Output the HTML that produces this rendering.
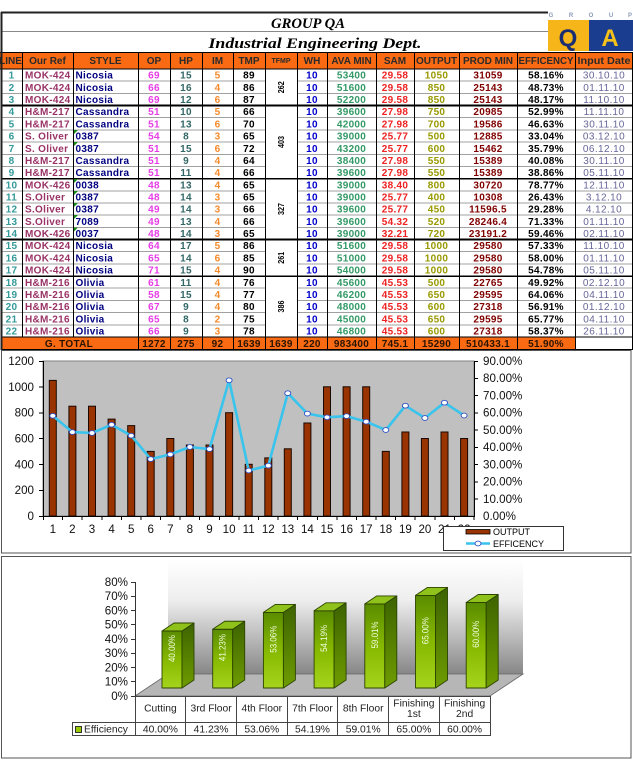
<!DOCTYPE html>
<html><head><meta charset="utf-8">
<style>
html,body{margin:0;padding:0;background:#fff;width:633px;height:768px;overflow:hidden}
svg{display:block}
text{font-family:"Liberation Sans",Arial,sans-serif}
.b text{font-weight:bold;font-size:10px;letter-spacing:0.3px}
</style></head><body>
<svg width="633" height="768" viewBox="0 0 633 768" xmlns="http://www.w3.org/2000/svg">
<defs>
<linearGradient id="wall" x1="0" y1="0" x2="0" y2="1"><stop offset="0" stop-color="#ffffff"/><stop offset="0.35" stop-color="#eeeeee"/><stop offset="1" stop-color="#878787"/></linearGradient>
<linearGradient id="gf" x1="0" y1="0" x2="0" y2="1"><stop offset="0" stop-color="#5a8c00"/><stop offset="0.5" stop-color="#86b800"/><stop offset="1" stop-color="#a6d41c"/></linearGradient>
<linearGradient id="gs" x1="0" y1="0" x2="0" y2="1"><stop offset="0" stop-color="#3d6300"/><stop offset="1" stop-color="#6e9c00"/></linearGradient>
</defs>

<!-- Title block -->
<line x1="1" y1="12.5" x2="548" y2="12.5" stroke="#222" stroke-width="2"/>
<line x1="2" y1="31.5" x2="548" y2="31.5" stroke="#888" stroke-width="1"/>
<text x="308" y="28" font-family="Liberation Serif" style="font-family:'Liberation Serif',serif" font-style="italic" font-weight="bold" font-size="15" text-anchor="middle" textLength="74" lengthAdjust="spacingAndGlyphs">GROUP QA</text>
<text x="315" y="48" style="font-family:'Liberation Serif',serif" font-style="italic" font-weight="bold" font-size="15" text-anchor="middle" textLength="213" lengthAdjust="spacingAndGlyphs">Industrial Engineering Dept.</text>

<!-- Logo -->
<g font-size="6" font-weight="bold" fill="#8a9ab8" text-anchor="middle">
<text x="551" y="17">G</text><text x="571" y="17">R</text><text x="591" y="17">O</text><text x="611" y="17">U</text><text x="630" y="17">P</text>
</g>
<rect x="548" y="20" width="41" height="31" fill="#f6b619"/>
<rect x="589" y="20" width="44" height="31" fill="#1b3d8f"/>
<text x="568" y="46" font-size="24" font-weight="bold" fill="#1b2f70" text-anchor="middle">Q</text>
<text x="610" y="46" font-size="24" font-weight="bold" fill="#f6c21a" text-anchor="middle">A</text>

<!-- Header row -->
<rect x="0" y="52" width="633" height="17" fill="#fa6a12"/>
<g font-weight="bold" font-size="10" fill="#2a2a2a" text-anchor="middle">
<text x="10.5" y="64">LINE</text>
<text x="47.5" y="64">Our Ref</text>
<text x="105.5" y="64">STYLE</text>
<text x="154" y="64">OP</text>
<text x="186" y="64">HP</text>
<text x="217.5" y="64">IM</text>
<text x="249" y="64">TMP</text>
<text x="281" y="63" font-size="7">TFMP</text>
<text x="312" y="64">WH</text>
<text x="351.5" y="64">AVA MIN</text>
<text x="395" y="64">SAM</text>
<text x="436.5" y="64">OUTPUT</text>
<text x="488" y="64">PROD MIN</text>
<text x="546" y="64" textLength="55" lengthAdjust="spacingAndGlyphs">EFFICENCY</text>
<text x="604" y="64" textLength="53" lengthAdjust="spacingAndGlyphs">Input Date</text>
</g>

<!-- Total row bg -->
<rect x="1" y="337" width="574" height="12.5" fill="#fa6a12"/>

<!-- grid -->
<g shape-rendering="crispEdges" fill="none">
<path stroke="#a0a0a0" stroke-width="1" d="M1 81.2H265M297 81.2H633M1 93.4H265M297 93.4H633M1 117.7H265M297 117.7H633M1 129.9H265M297 129.9H633M1 142.1H265M297 142.1H633M1 154.3H265M297 154.3H633M1 166.4H265M297 166.4H633M1 190.8H265M297 190.8H633M1 203H265M297 203H633M1 215.2H265M297 215.2H633M1 227.3H265M297 227.3H633M1 251.7H265M297 251.7H633M1 263.9H265M297 263.9H633M1 288.2H265M297 288.2H633M1 300.4H265M297 300.4H633M1 312.6H265M297 312.6H633M1 324.8H265M297 324.8H633"/>
<path stroke="#000" stroke-width="1" d="M0 52.5H633M0 68.8H633M1 337H633M1 349.5H633"/>
<path stroke="#000" stroke-width="1.6" d="M1 105.5H633M1 178.6H633M1 239.5H633M1 276.1H633"/>
<path stroke="#000" stroke-width="1" d="M22.5 52V337M73.5 52V337M138.5 52V349.5M170.5 52V349.5M202.5 52V349.5M233.5 52V349.5M265.5 52V349.5M297.5 52V349.5M327.5 52V349.5M376.5 52V349.5M414.5 52V349.5M459.5 52V349.5M517.5 52V349.5M575.5 52V349.5M632.5 52V349.5"/>
<path stroke="#222" stroke-width="2" d="M1.5 12V350"/>
</g>

<!-- green comment triangles -->
<g fill="#1a8a1a">
<polygon points="74,130 78,130 74,134"/><polygon points="74,142 78,142 74,146"/>
<polygon points="74,179 78,179 74,183"/><polygon points="74,191 78,191 74,195"/>
<polygon points="74,203 78,203 74,207"/><polygon points="74,215 78,215 74,219"/>
<polygon points="74,227.5 78,227.5 74,231.5"/>
</g>

<g class="b">
<text fill="#339999" text-anchor="middle"><tspan x="11.5" y="78.7">1</tspan><tspan x="11.5" y="90.9">2</tspan><tspan x="11.5" y="103.1">3</tspan><tspan x="11.5" y="115.2">4</tspan><tspan x="11.5" y="127.4">5</tspan><tspan x="11.5" y="139.6">6</tspan><tspan x="11.5" y="151.8">7</tspan><tspan x="11.5" y="164">8</tspan><tspan x="11.5" y="176.1">9</tspan><tspan x="11.5" y="188.3">10</tspan><tspan x="11.5" y="200.5">11</tspan><tspan x="11.5" y="212.7">12</tspan><tspan x="11.5" y="224.9">13</tspan><tspan x="11.5" y="237">14</tspan><tspan x="11.5" y="249.2">15</tspan><tspan x="11.5" y="261.4">16</tspan><tspan x="11.5" y="273.6">17</tspan><tspan x="11.5" y="285.8">18</tspan><tspan x="11.5" y="297.9">19</tspan><tspan x="11.5" y="310.1">20</tspan><tspan x="11.5" y="322.3">21</tspan><tspan x="11.5" y="334.5">22</tspan></text>
<text fill="#993366"><tspan x="25" y="78.7">MOK-424</tspan><tspan x="25" y="90.9">MOK-424</tspan><tspan x="25" y="103.1">MOK-424</tspan><tspan x="25" y="115.2">H&amp;M-217</tspan><tspan x="25" y="127.4">H&amp;M-217</tspan><tspan x="25" y="139.6">S. Oliver</tspan><tspan x="25" y="151.8">S. Oliver</tspan><tspan x="25" y="164">H&amp;M-217</tspan><tspan x="25" y="176.1">H&amp;M-217</tspan><tspan x="25" y="188.3">MOK-426</tspan><tspan x="25" y="200.5">S.Oliver</tspan><tspan x="25" y="212.7">S.Oliver</tspan><tspan x="25" y="224.9">S.Oliver</tspan><tspan x="25" y="237">MOK-426</tspan><tspan x="25" y="249.2">MOK-424</tspan><tspan x="25" y="261.4">MOK-424</tspan><tspan x="25" y="273.6">MOK-424</tspan><tspan x="25" y="285.8">H&amp;M-216</tspan><tspan x="25" y="297.9">H&amp;M-216</tspan><tspan x="25" y="310.1">H&amp;M-216</tspan><tspan x="25" y="322.3">H&amp;M-216</tspan><tspan x="25" y="334.5">H&amp;M-216</tspan></text>
<text fill="#000080"><tspan x="75.5" y="78.7">Nicosia</tspan><tspan x="75.5" y="90.9">Nicosia</tspan><tspan x="75.5" y="103.1">Nicosia</tspan><tspan x="75.5" y="115.2">Cassandra</tspan><tspan x="75.5" y="127.4">Cassandra</tspan><tspan x="75.5" y="139.6">0387</tspan><tspan x="75.5" y="151.8">0387</tspan><tspan x="75.5" y="164">Cassandra</tspan><tspan x="75.5" y="176.1">Cassandra</tspan><tspan x="75.5" y="188.3">0038</tspan><tspan x="75.5" y="200.5">0387</tspan><tspan x="75.5" y="212.7">0387</tspan><tspan x="75.5" y="224.9">7089</tspan><tspan x="75.5" y="237">0037</tspan><tspan x="75.5" y="249.2">Nicosia</tspan><tspan x="75.5" y="261.4">Nicosia</tspan><tspan x="75.5" y="273.6">Nicosia</tspan><tspan x="75.5" y="285.8">Olivia</tspan><tspan x="75.5" y="297.9">Olivia</tspan><tspan x="75.5" y="310.1">Olivia</tspan><tspan x="75.5" y="322.3">Olivia</tspan><tspan x="75.5" y="334.5">Olivia</tspan></text>
<text fill="#e63ce6" text-anchor="middle"><tspan x="154" y="78.7">69</tspan><tspan x="154" y="90.9">66</tspan><tspan x="154" y="103.1">69</tspan><tspan x="154" y="115.2">51</tspan><tspan x="154" y="127.4">51</tspan><tspan x="154" y="139.6">54</tspan><tspan x="154" y="151.8">51</tspan><tspan x="154" y="164">51</tspan><tspan x="154" y="176.1">51</tspan><tspan x="154" y="188.3">48</tspan><tspan x="154" y="200.5">48</tspan><tspan x="154" y="212.7">49</tspan><tspan x="154" y="224.9">49</tspan><tspan x="154" y="237">48</tspan><tspan x="154" y="249.2">64</tspan><tspan x="154" y="261.4">65</tspan><tspan x="154" y="273.6">71</tspan><tspan x="154" y="285.8">61</tspan><tspan x="154" y="297.9">58</tspan><tspan x="154" y="310.1">67</tspan><tspan x="154" y="322.3">65</tspan><tspan x="154" y="334.5">66</tspan></text>
<text fill="#336666" text-anchor="middle"><tspan x="186" y="78.7">15</tspan><tspan x="186" y="90.9">16</tspan><tspan x="186" y="103.1">12</tspan><tspan x="186" y="115.2">10</tspan><tspan x="186" y="127.4">13</tspan><tspan x="186" y="139.6">8</tspan><tspan x="186" y="151.8">15</tspan><tspan x="186" y="164">9</tspan><tspan x="186" y="176.1">11</tspan><tspan x="186" y="188.3">13</tspan><tspan x="186" y="200.5">14</tspan><tspan x="186" y="212.7">14</tspan><tspan x="186" y="224.9">13</tspan><tspan x="186" y="237">14</tspan><tspan x="186" y="249.2">17</tspan><tspan x="186" y="261.4">14</tspan><tspan x="186" y="273.6">15</tspan><tspan x="186" y="285.8">11</tspan><tspan x="186" y="297.9">15</tspan><tspan x="186" y="310.1">9</tspan><tspan x="186" y="322.3">8</tspan><tspan x="186" y="334.5">9</tspan></text>
<text fill="#f58a2a" text-anchor="middle"><tspan x="217.5" y="78.7">5</tspan><tspan x="217.5" y="90.9">4</tspan><tspan x="217.5" y="103.1">6</tspan><tspan x="217.5" y="115.2">5</tspan><tspan x="217.5" y="127.4">6</tspan><tspan x="217.5" y="139.6">3</tspan><tspan x="217.5" y="151.8">6</tspan><tspan x="217.5" y="164">4</tspan><tspan x="217.5" y="176.1">4</tspan><tspan x="217.5" y="188.3">4</tspan><tspan x="217.5" y="200.5">3</tspan><tspan x="217.5" y="212.7">3</tspan><tspan x="217.5" y="224.9">4</tspan><tspan x="217.5" y="237">3</tspan><tspan x="217.5" y="249.2">5</tspan><tspan x="217.5" y="261.4">6</tspan><tspan x="217.5" y="273.6">4</tspan><tspan x="217.5" y="285.8">4</tspan><tspan x="217.5" y="297.9">4</tspan><tspan x="217.5" y="310.1">4</tspan><tspan x="217.5" y="322.3">2</tspan><tspan x="217.5" y="334.5">3</tspan></text>
<text fill="#000" text-anchor="middle"><tspan x="249" y="78.7">89</tspan><tspan x="249" y="90.9">86</tspan><tspan x="249" y="103.1">87</tspan><tspan x="249" y="115.2">66</tspan><tspan x="249" y="127.4">70</tspan><tspan x="249" y="139.6">65</tspan><tspan x="249" y="151.8">72</tspan><tspan x="249" y="164">64</tspan><tspan x="249" y="176.1">66</tspan><tspan x="249" y="188.3">65</tspan><tspan x="249" y="200.5">65</tspan><tspan x="249" y="212.7">66</tspan><tspan x="249" y="224.9">66</tspan><tspan x="249" y="237">65</tspan><tspan x="249" y="249.2">86</tspan><tspan x="249" y="261.4">85</tspan><tspan x="249" y="273.6">90</tspan><tspan x="249" y="285.8">76</tspan><tspan x="249" y="297.9">77</tspan><tspan x="249" y="310.1">80</tspan><tspan x="249" y="322.3">75</tspan><tspan x="249" y="334.5">78</tspan></text>
<text fill="#0000cc" text-anchor="middle"><tspan x="312" y="78.7">10</tspan><tspan x="312" y="90.9">10</tspan><tspan x="312" y="103.1">10</tspan><tspan x="312" y="115.2">10</tspan><tspan x="312" y="127.4">10</tspan><tspan x="312" y="139.6">10</tspan><tspan x="312" y="151.8">10</tspan><tspan x="312" y="164">10</tspan><tspan x="312" y="176.1">10</tspan><tspan x="312" y="188.3">10</tspan><tspan x="312" y="200.5">10</tspan><tspan x="312" y="212.7">10</tspan><tspan x="312" y="224.9">10</tspan><tspan x="312" y="237">10</tspan><tspan x="312" y="249.2">10</tspan><tspan x="312" y="261.4">10</tspan><tspan x="312" y="273.6">10</tspan><tspan x="312" y="285.8">10</tspan><tspan x="312" y="297.9">10</tspan><tspan x="312" y="310.1">10</tspan><tspan x="312" y="322.3">10</tspan><tspan x="312" y="334.5">10</tspan></text>
<text fill="#339966" text-anchor="middle"><tspan x="351.5" y="78.7">53400</tspan><tspan x="351.5" y="90.9">51600</tspan><tspan x="351.5" y="103.1">52200</tspan><tspan x="351.5" y="115.2">39600</tspan><tspan x="351.5" y="127.4">42000</tspan><tspan x="351.5" y="139.6">39000</tspan><tspan x="351.5" y="151.8">43200</tspan><tspan x="351.5" y="164">38400</tspan><tspan x="351.5" y="176.1">39600</tspan><tspan x="351.5" y="188.3">39000</tspan><tspan x="351.5" y="200.5">39000</tspan><tspan x="351.5" y="212.7">39600</tspan><tspan x="351.5" y="224.9">39600</tspan><tspan x="351.5" y="237">39000</tspan><tspan x="351.5" y="249.2">51600</tspan><tspan x="351.5" y="261.4">51000</tspan><tspan x="351.5" y="273.6">54000</tspan><tspan x="351.5" y="285.8">45600</tspan><tspan x="351.5" y="297.9">46200</tspan><tspan x="351.5" y="310.1">48000</tspan><tspan x="351.5" y="322.3">45000</tspan><tspan x="351.5" y="334.5">46800</tspan></text>
<text fill="#ee2222" text-anchor="middle"><tspan x="395" y="78.7">29.58</tspan><tspan x="395" y="90.9">29.58</tspan><tspan x="395" y="103.1">29.58</tspan><tspan x="395" y="115.2">27.98</tspan><tspan x="395" y="127.4">27.98</tspan><tspan x="395" y="139.6">25.77</tspan><tspan x="395" y="151.8">25.77</tspan><tspan x="395" y="164">27.98</tspan><tspan x="395" y="176.1">27.98</tspan><tspan x="395" y="188.3">38.40</tspan><tspan x="395" y="200.5">25.77</tspan><tspan x="395" y="212.7">25.77</tspan><tspan x="395" y="224.9">54.32</tspan><tspan x="395" y="237">32.21</tspan><tspan x="395" y="249.2">29.58</tspan><tspan x="395" y="261.4">29.58</tspan><tspan x="395" y="273.6">29.58</tspan><tspan x="395" y="285.8">45.53</tspan><tspan x="395" y="297.9">45.53</tspan><tspan x="395" y="310.1">45.53</tspan><tspan x="395" y="322.3">45.53</tspan><tspan x="395" y="334.5">45.53</tspan></text>
<text fill="#999900" text-anchor="middle"><tspan x="436.5" y="78.7">1050</tspan><tspan x="436.5" y="90.9">850</tspan><tspan x="436.5" y="103.1">850</tspan><tspan x="436.5" y="115.2">750</tspan><tspan x="436.5" y="127.4">700</tspan><tspan x="436.5" y="139.6">500</tspan><tspan x="436.5" y="151.8">600</tspan><tspan x="436.5" y="164">550</tspan><tspan x="436.5" y="176.1">550</tspan><tspan x="436.5" y="188.3">800</tspan><tspan x="436.5" y="200.5">400</tspan><tspan x="436.5" y="212.7">450</tspan><tspan x="436.5" y="224.9">520</tspan><tspan x="436.5" y="237">720</tspan><tspan x="436.5" y="249.2">1000</tspan><tspan x="436.5" y="261.4">1000</tspan><tspan x="436.5" y="273.6">1000</tspan><tspan x="436.5" y="285.8">500</tspan><tspan x="436.5" y="297.9">650</tspan><tspan x="436.5" y="310.1">600</tspan><tspan x="436.5" y="322.3">650</tspan><tspan x="436.5" y="334.5">600</tspan></text>
<text fill="#800000" text-anchor="middle"><tspan x="488" y="78.7">31059</tspan><tspan x="488" y="90.9">25143</tspan><tspan x="488" y="103.1">25143</tspan><tspan x="488" y="115.2">20985</tspan><tspan x="488" y="127.4">19586</tspan><tspan x="488" y="139.6">12885</tspan><tspan x="488" y="151.8">15462</tspan><tspan x="488" y="164">15389</tspan><tspan x="488" y="176.1">15389</tspan><tspan x="488" y="188.3">30720</tspan><tspan x="488" y="200.5">10308</tspan><tspan x="488" y="212.7">11596.5</tspan><tspan x="488" y="224.9">28246.4</tspan><tspan x="488" y="237">23191.2</tspan><tspan x="488" y="249.2">29580</tspan><tspan x="488" y="261.4">29580</tspan><tspan x="488" y="273.6">29580</tspan><tspan x="488" y="285.8">22765</tspan><tspan x="488" y="297.9">29595</tspan><tspan x="488" y="310.1">27318</tspan><tspan x="488" y="322.3">29595</tspan><tspan x="488" y="334.5">27318</tspan></text>
<text fill="#000" text-anchor="middle"><tspan x="546" y="78.7">58.16%</tspan><tspan x="546" y="90.9">48.73%</tspan><tspan x="546" y="103.1">48.17%</tspan><tspan x="546" y="115.2">52.99%</tspan><tspan x="546" y="127.4">46.63%</tspan><tspan x="546" y="139.6">33.04%</tspan><tspan x="546" y="151.8">35.79%</tspan><tspan x="546" y="164">40.08%</tspan><tspan x="546" y="176.1">38.86%</tspan><tspan x="546" y="188.3">78.77%</tspan><tspan x="546" y="200.5">26.43%</tspan><tspan x="546" y="212.7">29.28%</tspan><tspan x="546" y="224.9">71.33%</tspan><tspan x="546" y="237">59.46%</tspan><tspan x="546" y="249.2">57.33%</tspan><tspan x="546" y="261.4">58.00%</tspan><tspan x="546" y="273.6">54.78%</tspan><tspan x="546" y="285.8">49.92%</tspan><tspan x="546" y="297.9">64.06%</tspan><tspan x="546" y="310.1">56.91%</tspan><tspan x="546" y="322.3">65.77%</tspan><tspan x="546" y="334.5">58.37%</tspan></text>
<text fill="#666699" text-anchor="middle" style="font-weight:normal;letter-spacing:0.4px"><tspan x="604" y="78.7">30.10.10</tspan><tspan x="604" y="90.9">01.11.10</tspan><tspan x="604" y="103.1">11.10.10</tspan><tspan x="604" y="115.2">11.11.10</tspan><tspan x="604" y="127.4">30.11.10</tspan><tspan x="604" y="139.6">03.12.10</tspan><tspan x="604" y="151.8">06.12.10</tspan><tspan x="604" y="164">30.11.10</tspan><tspan x="604" y="176.1">05.11.10</tspan><tspan x="604" y="188.3">12.11.10</tspan><tspan x="604" y="200.5">3.12.10</tspan><tspan x="604" y="212.7">4.12.10</tspan><tspan x="604" y="224.9">01.11.10</tspan><tspan x="604" y="237">02.11.10</tspan><tspan x="604" y="249.2">11.10.10</tspan><tspan x="604" y="261.4">01.11.10</tspan><tspan x="604" y="273.6">05.11.10</tspan><tspan x="604" y="285.8">02.12.10</tspan><tspan x="604" y="297.9">04.11.10</tspan><tspan x="604" y="310.1">01.12.10</tspan><tspan x="604" y="322.3">04.11.10</tspan><tspan x="604" y="334.5">26.11.10</tspan></text>
<!-- Total row -->
<text fill="#2a1400" text-anchor="middle"><tspan x="69" y="346.8">G. TOTAL</tspan><tspan x="154" y="346.8">1272</tspan><tspan x="186" y="346.8">275</tspan><tspan x="217.5" y="346.8">92</tspan><tspan x="249" y="346.8">1639</tspan><tspan x="281" y="346.8">1639</tspan><tspan x="312" y="346.8">220</tspan><tspan x="351.5" y="346.8">983400</tspan><tspan x="395" y="346.8">745.1</tspan><tspan x="436.5" y="346.8">15290</tspan><tspan x="488" y="346.8">510433.1</tspan><tspan x="546" y="346.8">51.90%</tspan></text>
</g>

<!-- TFMP merged labels -->
<g font-weight="bold" font-size="8.5" fill="#000" text-anchor="middle">
<text transform="translate(284,87.3) rotate(-90)" textLength="12" lengthAdjust="spacingAndGlyphs">262</text>
<text transform="translate(284,142) rotate(-90)" textLength="12" lengthAdjust="spacingAndGlyphs">403</text>
<text transform="translate(284,209) rotate(-90)" textLength="12" lengthAdjust="spacingAndGlyphs">327</text>
<text transform="translate(284,257.8) rotate(-90)" textLength="12" lengthAdjust="spacingAndGlyphs">261</text>
<text transform="translate(284,306.5) rotate(-90)" textLength="12" lengthAdjust="spacingAndGlyphs">386</text>
</g>

<!-- ========== Chart 1 ========== -->
<rect x="1.5" y="350.5" width="629.5" height="202.5" fill="#fff" stroke="#555" stroke-width="1"/>
<rect x="43" y="361" width="431" height="155" fill="#c0c0c0" stroke="#808080" stroke-width="1"/>
<g fill="#993300" stroke="#1a0800" stroke-width="1">
<rect x="49.3" y="380.4" width="7" height="135.6"/>
<rect x="68.9" y="406.2" width="7" height="109.8"/>
<rect x="88.5" y="406.2" width="7" height="109.8"/>
<rect x="108.1" y="419.1" width="7" height="96.9"/>
<rect x="127.7" y="425.6" width="7" height="90.4"/>
<rect x="147.2" y="451.4" width="7" height="64.6"/>
<rect x="166.8" y="438.5" width="7" height="77.5"/>
<rect x="186.4" y="445" width="7" height="71"/>
<rect x="206" y="445" width="7" height="71"/>
<rect x="225.6" y="412.7" width="7" height="103.3"/>
<rect x="245.2" y="464.3" width="7" height="51.7"/>
<rect x="264.8" y="457.9" width="7" height="58.1"/>
<rect x="284.3" y="448.8" width="7" height="67.2"/>
<rect x="303.9" y="423" width="7" height="93"/>
<rect x="323.5" y="386.8" width="7" height="129.2"/>
<rect x="343.1" y="386.8" width="7" height="129.2"/>
<rect x="362.7" y="386.8" width="7" height="129.2"/>
<rect x="382.3" y="451.4" width="7" height="64.6"/>
<rect x="401.9" y="432" width="7" height="84"/>
<rect x="421.4" y="438.5" width="7" height="77.5"/>
<rect x="441" y="432" width="7" height="84"/>
<rect x="460.6" y="438.5" width="7" height="77.5"/>
</g>
<polyline fill="none" stroke="#38c4ec" stroke-width="2.6" stroke-linejoin="round" points="52.8,415.8 72.4,432.1 92,433 111.6,424.7 131.2,435.7 150.7,459.1 170.3,454.4 189.9,447 209.5,449.1 229.1,380.3 248.7,470.5 268.3,465.6 287.8,393.2 307.4,413.6 327,417.3 346.6,416.1 366.2,421.7 385.8,430 405.4,405.7 424.9,418 444.5,402.7 464.1,415.5"/>
<g fill="#fff" stroke="#2d4fc4" stroke-width="0.9">
<ellipse cx="52.8" cy="415.8" rx="3" ry="2.4"/><ellipse cx="72.4" cy="432.1" rx="3" ry="2.4"/><ellipse cx="92" cy="433" rx="3" ry="2.4"/><ellipse cx="111.6" cy="424.7" rx="3" ry="2.4"/><ellipse cx="131.2" cy="435.7" rx="3" ry="2.4"/><ellipse cx="150.7" cy="459.1" rx="3" ry="2.4"/><ellipse cx="170.3" cy="454.4" rx="3" ry="2.4"/><ellipse cx="189.9" cy="447" rx="3" ry="2.4"/><ellipse cx="209.5" cy="449.1" rx="3" ry="2.4"/><ellipse cx="229.1" cy="380.3" rx="3" ry="2.4"/><ellipse cx="248.7" cy="470.5" rx="3" ry="2.4"/><ellipse cx="268.3" cy="465.6" rx="3" ry="2.4"/><ellipse cx="287.8" cy="393.2" rx="3" ry="2.4"/><ellipse cx="307.4" cy="413.6" rx="3" ry="2.4"/><ellipse cx="327" cy="417.3" rx="3" ry="2.4"/><ellipse cx="346.6" cy="416.1" rx="3" ry="2.4"/><ellipse cx="366.2" cy="421.7" rx="3" ry="2.4"/><ellipse cx="385.8" cy="430" rx="3" ry="2.4"/><ellipse cx="405.4" cy="405.7" rx="3" ry="2.4"/><ellipse cx="424.9" cy="418" rx="3" ry="2.4"/><ellipse cx="444.5" cy="402.7" rx="3" ry="2.4"/><ellipse cx="464.1" cy="415.5" rx="3" ry="2.4"/>
</g>
<g stroke="#000" stroke-width="1" fill="none" shape-rendering="crispEdges">
<path d="M43.5 361V516M474.5 361V516M43 516.5H475"/>
<path d="M39 361.5H43M39 387H43M39 412.9H43M39 438.7H43M39 464.5H43M39 490.4H43M39 516.5H43"/>
<path d="M474 361.5H478M474 378.5H478M474 395.5H478M474 412.9H478M474 430H478M474 447.3H478M474 464.5H478M474 481.8H478M474 499H478"/>
<path d="M43.5 516V520M62.6 516V520M82.2 516V520M101.8 516V520M121.4 516V520M141 516V520M160.5 516V520M180.1 516V520M199.7 516V520M219.3 516V520M238.9 516V520M258.5 516V520M278.1 516V520M297.7 516V520M317.3 516V520M336.9 516V520M356.4 516V520M376 516V520M395.6 516V520M415.2 516V520M434.8 516V520M454.4 516V520M474 516V520"/>
</g>
<g font-size="11.6" fill="#111" text-anchor="end">
<text x="34" y="365">1200</text><text x="34" y="390.8">1000</text><text x="34" y="416.7">800</text><text x="34" y="442.5">600</text><text x="34" y="468.3">400</text><text x="34" y="494.2">200</text><text x="34" y="520">0</text>
</g>
<g font-size="11.6" fill="#111">
<text x="483" y="365">90.00%</text><text x="483" y="382.2">80.00%</text><text x="483" y="399.4">70.00%</text><text x="483" y="416.7">60.00%</text><text x="483" y="433.9">50.00%</text><text x="483" y="451.1">40.00%</text><text x="483" y="468.3">30.00%</text><text x="483" y="485.6">20.00%</text><text x="483" y="502.8">10.00%</text><text x="483" y="520">0.00%</text>
</g>
<g font-size="11.6" fill="#111" text-anchor="middle">
<text x="52.8" y="533">1</text><text x="72.4" y="533">2</text><text x="92" y="533">3</text><text x="111.6" y="533">4</text><text x="131.2" y="533">5</text><text x="150.7" y="533">6</text><text x="170.3" y="533">7</text><text x="189.9" y="533">8</text><text x="209.5" y="533">9</text><text x="229.1" y="533">10</text><text x="248.7" y="533">11</text><text x="268.3" y="533">12</text><text x="287.8" y="533">13</text><text x="307.4" y="533">14</text><text x="327" y="533">15</text><text x="346.6" y="533">16</text><text x="366.2" y="533">17</text><text x="385.8" y="533">18</text><text x="405.4" y="533">19</text><text x="424.9" y="533">20</text><text x="444.5" y="533">21</text><text x="464.1" y="533">22</text>
</g>
<!-- legend -->
<rect x="443.5" y="526.5" width="120" height="24" fill="#fff" stroke="#333" stroke-width="1"/>
<rect x="466" y="529.5" width="24" height="4.5" fill="#993300" stroke="#000" stroke-width="0.8"/>
<text x="493" y="535" font-size="9" fill="#000">OUTPUT</text>
<line x1="466" y1="543.5" x2="490" y2="543.5" stroke="#38c4ec" stroke-width="2.6"/>
<ellipse cx="478" cy="543.5" rx="3" ry="2.4" fill="#fff" stroke="#2d4fc4" stroke-width="0.9"/>
<text x="493" y="547" font-size="9" fill="#000">EFFICENCY</text>

<!-- ========== Chart 2 ========== -->
<rect x="1.5" y="556.5" width="629.5" height="201.5" fill="#fff" stroke="#555" stroke-width="1"/>
<rect x="168" y="560" width="355" height="114" fill="url(#wall)"/>
<polygon points="135,696 490,696 523,674 168,674" fill="#b6b6b6" stroke="#666" stroke-width="0.8"/>
<g stroke="#2d4400" stroke-width="0.9" stroke-linejoin="round">
<rect x="162" y="631" width="20" height="57" fill="url(#gf)"/>
<polygon points="182,631 194,623 194,680 182,688" fill="url(#gs)"/>
<polygon points="162,631 174,623 194,623 182,631" fill="#8fc21a"/>
<rect x="212.7" y="629.25" width="20" height="58.75" fill="url(#gf)"/>
<polygon points="232.7,629.25 244.7,621.25 244.7,680 232.7,688" fill="url(#gs)"/>
<polygon points="212.7,629.25 224.7,621.25 244.7,621.25 232.7,629.25" fill="#8fc21a"/>
<rect x="263.4" y="612.4" width="20" height="75.6" fill="url(#gf)"/>
<polygon points="283.4,612.4 295.4,604.4 295.4,680 283.4,688" fill="url(#gs)"/>
<polygon points="263.4,612.4 275.4,604.4 295.4,604.4 283.4,612.4" fill="#8fc21a"/>
<rect x="314.1" y="610.8" width="20" height="77.2" fill="url(#gf)"/>
<polygon points="334.1,610.8 346.1,602.8 346.1,680 334.1,688" fill="url(#gs)"/>
<polygon points="314.1,610.8 326.1,602.8 346.1,602.8 334.1,610.8" fill="#8fc21a"/>
<rect x="364.8" y="603.9" width="20" height="84.1" fill="url(#gf)"/>
<polygon points="384.8,603.9 396.8,595.9 396.8,680 384.8,688" fill="url(#gs)"/>
<polygon points="364.8,603.9 376.8,595.9 396.8,595.9 384.8,603.9" fill="#8fc21a"/>
<rect x="415.5" y="595.4" width="20" height="92.6" fill="url(#gf)"/>
<polygon points="435.5,595.4 447.5,587.4 447.5,680 435.5,688" fill="url(#gs)"/>
<polygon points="415.5,595.4 427.5,587.4 447.5,587.4 435.5,595.4" fill="#8fc21a"/>
<rect x="466.2" y="602.5" width="20" height="85.5" fill="url(#gf)"/>
<polygon points="486.2,602.5 498.2,594.5 498.2,680 486.2,688" fill="url(#gs)"/>
<polygon points="466.2,602.5 478.2,594.5 498.2,594.5 486.2,602.5" fill="#8fc21a"/>
</g>
<g font-size="9" fill="#f2ffe0" text-anchor="middle">
<text transform="translate(175,648.5) rotate(-90)" textLength="27" lengthAdjust="spacingAndGlyphs">40.00%</text>
<text transform="translate(225.7,647.6) rotate(-90)" textLength="27" lengthAdjust="spacingAndGlyphs">41.23%</text>
<text transform="translate(276.4,639.2) rotate(-90)" textLength="27" lengthAdjust="spacingAndGlyphs">53.06%</text>
<text transform="translate(327.1,638.4) rotate(-90)" textLength="27" lengthAdjust="spacingAndGlyphs">54.19%</text>
<text transform="translate(377.8,635) rotate(-90)" textLength="27" lengthAdjust="spacingAndGlyphs">59.01%</text>
<text transform="translate(428.5,630.7) rotate(-90)" textLength="27" lengthAdjust="spacingAndGlyphs">65.00%</text>
<text transform="translate(479.2,634.3) rotate(-90)" textLength="27" lengthAdjust="spacingAndGlyphs">60.00%</text>
</g>
<g stroke="#333" stroke-width="1" fill="none" shape-rendering="crispEdges">
<path d="M135.5 582V696M131 582.5H135M131 596.5H135M131 610.5H135M131 624.5H135M131 639.5H135M131 653.5H135M131 667.5H135M131 681.5H135M131 696.5H135"/>
</g>
<g font-size="11.6" fill="#111" text-anchor="end">
<text x="128" y="586">80%</text><text x="128" y="600.2">70%</text><text x="128" y="614.5">60%</text><text x="128" y="628.7">50%</text><text x="128" y="643">40%</text><text x="128" y="657.2">30%</text><text x="128" y="671.5">20%</text><text x="128" y="685.7">10%</text><text x="128" y="700">0%</text>
</g>
<!-- data table -->
<g stroke="#444" stroke-width="1" fill="none" shape-rendering="crispEdges">
<path d="M135 696.5H490M72 722.5H490M72 735.5H490M72.5 722V736M135.5 696V736M185.5 696V736M236.5 696V736M287.5 696V736M337.5 696V736M388.5 696V736M439.5 696V736M490.5 696V736"/>
</g>
<g font-size="10.3" fill="#222" text-anchor="middle">
<text x="160.4" y="711.3">Cutting</text>
<text x="211.1" y="711.3">3rd Floor</text>
<text x="261.8" y="711.3">4th Floor</text>
<text x="312.5" y="711.3">7th Floor</text>
<text x="363.2" y="711.3">8th Floor</text>
<text x="413.9" y="706.5">Finishing</text><text x="413.9" y="716.8">1st</text>
<text x="464.6" y="706.5">Finishing</text><text x="464.6" y="716.8">2nd</text>
<text x="160.4" y="732.5">40.00%</text>
<text x="211.1" y="732.5">41.23%</text>
<text x="261.8" y="732.5">53.06%</text>
<text x="312.5" y="732.5">54.19%</text>
<text x="363.2" y="732.5">59.01%</text>
<text x="413.9" y="732.5">65.00%</text>
<text x="464.6" y="732.5">60.00%</text>
</g>
<rect x="75.5" y="726.5" width="6" height="6" fill="#99cc00" stroke="#333" stroke-width="1"/>
<text x="84" y="732.5" font-size="10.3" fill="#222">Efficiency</text>
</svg>
</body></html>
